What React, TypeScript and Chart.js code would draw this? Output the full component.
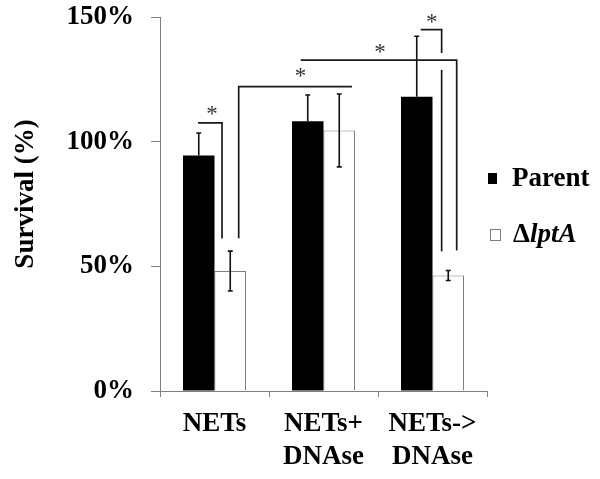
import React, { useEffect, useRef } from 'react';
import { Chart, registerables } from 'chart.js';

Chart.register(...registerables);

// ---- data ----
const categories: string[][] = [['NETs'], ['NETs+', 'DNAse'], ['NETs->', 'DNAse']];
const seriesNames = ['Parent', 'ΔlptA'];
const parentValues = [94.5, 108.2, 118.0];
const parentErrors = [9.0, 10.5, 24.3];
const mutantValues = [48.1, 104.5, 46.3];
const mutantErrors = [8.0, 14.6, 2.0];
const yTickValues = [0, 50, 100, 150];
const yTitle = 'Survival (%)';

// significance brackets: points as [category units, percent]
const bracketPaths: number[][][] = [
  [[-0.151, 107.5], [0.069, 107.5], [0.069, 61.2]],
  [[0.222, 61.3], [0.222, 122.1], [1.261, 122.1]],
  [[0.791, 132.7], [2.222, 132.7], [2.222, 56.4]],
  [[1.892, 144.9], [2.084, 144.9], [2.084, 135.6]],
  [[2.084, 128.8], [2.084, 56.0]],
];
const starPositions: number[][] = [
  [-0.023, 112.4],
  [0.789, 127.6],
  [1.518, 137.2],
  [1.993, 149.6],
];

const FONT = "'Liberation Serif', 'Times New Roman', serif";

const overlayPlugin = {
  id: 'overlay',
  afterDatasetsDraw(chart: any) {
    const ctx = chart.ctx;
    const xs = chart.scales.x;
    const ys = chart.scales.y;
    // error bars
    const errs = [parentErrors, mutantErrors];
    const vals = [parentValues, mutantValues];
    ctx.save();
    ctx.strokeStyle = '#111';
    ctx.lineWidth = 1.6;
    for (let d = 0; d < 2; d++) {
      const meta = chart.getDatasetMeta(d);
      meta.data.forEach((el: any, i: number) => {
        const x = el.x;
        const yt = ys.getPixelForValue(vals[d][i] + errs[d][i]);
        const yb = d === 0 ? el.y : ys.getPixelForValue(vals[d][i] - errs[d][i]);
        ctx.beginPath();
        ctx.moveTo(x, yt);
        ctx.lineTo(x, yb);
        ctx.moveTo(x - 2.5, yt);
        ctx.lineTo(x + 2.5, yt);
        if (d !== 0) {
          ctx.moveTo(x - 2.5, yb);
          ctx.lineTo(x + 2.5, yb);
        }
        ctx.stroke();
      });
    }
    // brackets
    const x0 = xs.getPixelForValue(0);
    const step = xs.getPixelForValue(1) - x0;
    const px = (u: number) => x0 + u * step;
    ctx.strokeStyle = '#1a1a1a';
    ctx.lineWidth = 1.7;
    bracketPaths.forEach((path) => {
      ctx.beginPath();
      path.forEach((p, k) => {
        const X = px(p[0]);
        const Y = ys.getPixelForValue(p[1]);
        if (k === 0) ctx.moveTo(X, Y);
        else ctx.lineTo(X, Y);
      });
      ctx.stroke();
    });
    // stars
    const starSize = 23;
    ctx.fillStyle = '#333';
    ctx.font = `${starSize}px ${FONT}`;
    ctx.textAlign = 'center';
    ctx.textBaseline = 'alphabetic';
    starPositions.forEach((s) => {
      ctx.fillText('*', px(s[0]), ys.getPixelForValue(s[1]) + 0.46 * starSize);
    });
    ctx.restore();
  },
  afterDraw(chart: any) {
    const ctx = chart.ctx;
    ctx.save();
    // y title
    ctx.fillStyle = '#000';
    ctx.font = `bold 27px ${FONT}`;
    ctx.textAlign = 'center';
    ctx.textBaseline = 'alphabetic';
    ctx.translate(33, 194);
    ctx.rotate(-Math.PI / 2);
    ctx.fillText(yTitle, 0, 0);
    ctx.restore();

    // legend
    ctx.save();
    ctx.fillStyle = '#000';
    ctx.fillRect(488, 173, 9, 11);
    ctx.fillStyle = '#fff';
    ctx.fillRect(490.5, 229.5, 10, 11);
    ctx.strokeStyle = '#808080';
    ctx.lineWidth = 1;
    ctx.strokeRect(490.5, 229.5, 10, 11);
    ctx.fillStyle = '#000';
    ctx.textAlign = 'left';
    ctx.textBaseline = 'alphabetic';
    ctx.font = `bold 27px ${FONT}`;
    ctx.fillText(seriesNames[0], 512, 186);
    const delta = seriesNames[1].charAt(0);
    const rest = seriesNames[1].slice(1);
    ctx.fillText(delta, 513, 241.5);
    const w = ctx.measureText(delta).width;
    ctx.font = `italic bold 27px ${FONT}`;
    ctx.fillText(rest, 513 + w, 241.5);
    ctx.restore();
  },
};

export default function App() {
  const ref = useRef<HTMLCanvasElement | null>(null);
  useEffect(() => {
    if (!ref.current) return;
    const chart = new Chart(ref.current, {
      type: 'bar',
      data: {
        labels: categories,
        datasets: [
          {
            label: seriesNames[0],
            data: parentValues,
            backgroundColor: '#000000',
            borderWidth: 0,
          },
          {
            label: seriesNames[1],
            data: mutantValues,
            backgroundColor: '#ffffff',
            borderColor: '#808080',
            borderWidth: 1,
          },
        ],
      },
      options: {
        responsive: false,
        animation: false,
        layout: { padding: { left: 0, right: 113, top: 17, bottom: 0 } },
        datasets: {
          bar: { categoryPercentage: 0.578, barPercentage: 1.0 },
        },
        plugins: {
          legend: { display: false },
          tooltip: { enabled: false },
          title: { display: false },
        },
        scales: {
          x: {
            grid: {
              display: true,
              drawOnChartArea: false,
              drawTicks: true,
              tickLength: 6,
              color: '#808080',
              offset: true,
            },
            border: { display: true, color: '#808080', width: 1 },
            ticks: {
              color: '#000',
              font: { family: FONT, size: 27, weight: 'bold', lineHeight: 1.24 },
              padding: 10,
              maxRotation: 0,
              autoSkip: false,
            },
            afterFit: (scale: any) => {
              scale.height = 88;
              scale.paddingLeft = 0;
              scale.paddingRight = 0;
            },
          },
          y: {
            min: 0,
            max: 150,
            afterBuildTicks: (scale: any) => {
              scale.ticks = yTickValues.map((v) => ({ value: v }));
            },
            grid: {
              display: true,
              drawOnChartArea: false,
              drawTicks: true,
              tickLength: 9,
              color: '#808080',
            },
            border: { display: true, color: '#808080', width: 1 },
            ticks: {
              color: '#000',
              font: { family: FONT, size: 27, weight: 'bold' },
              padding: 17,
              callback: (v: any) => `${v}%`,
            },
            afterFit: (scale: any) => {
              scale.width = 160;
              scale.paddingTop = 0;
              scale.paddingBottom = 0;
            },
          },
        },
      },
      plugins: [overlayPlugin],
    });
    return () => chart.destroy();
  }, []);
  return (
    <div style={{ position: 'fixed', left: 0, top: 0, width: 600, height: 479, background: '#fff' }}>
      <canvas ref={ref} width={600} height={479} />
    </div>
  );
}
